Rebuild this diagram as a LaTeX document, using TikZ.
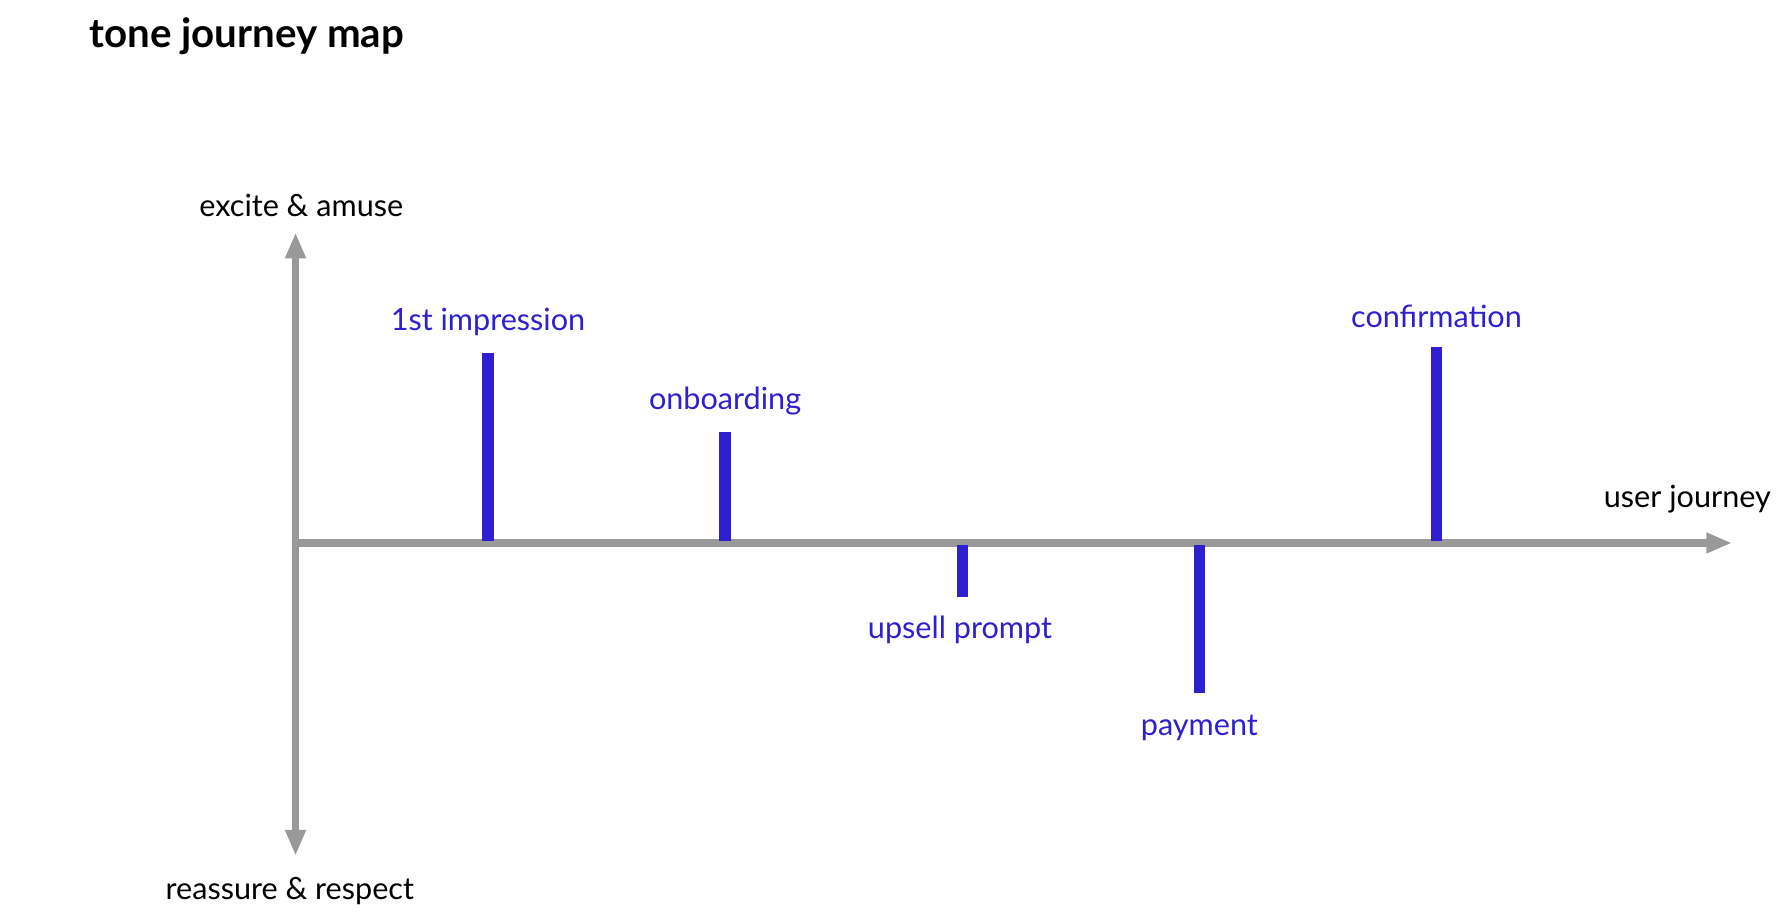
\documentclass[tikz,border=0pt]{standalone}
\usepackage{fontspec}
\setmainfont{Lato}
\usetikzlibrary{positioning, arrows.meta}
\definecolor{axisgray}{HTML}{999999}
\definecolor{toneblue}{HTML}{2E1FD1}
\tikzset{
  axis/.style={draw=axisgray, line width=4.5pt, -{Triangle[length=16pt,width=12pt]}},
  bar/.style={draw=toneblue, line width=7pt},
  tone/.style={text=toneblue, font=\fontsize{19}{22}\selectfont},
  axlabel/.style={font=\fontsize{19}{22}\selectfont}
}
\begin{document}
\begin{tikzpicture}[x=0.025cm, y=-0.025cm]
\useasboundingbox (0,0) rectangle (1560,799);
\node (title) [anchor=west, font=\bfseries\fontsize{25}{30}\selectfont] at (73,32) {tone journey map};
% axes
\coordinate (o) at (258,474);
\coordinate (top) at (258,203);
\coordinate (bot) at (258,747);
\coordinate (right) at (1512,474);
\draw [axis] (o) -- (top);
\draw [axis] (o) -- (bot);
\draw [axis] (o) -- (right);
\node (up) [axlabel] at (263,179) {excite \& amuse};
\node (down) [axlabel] at (253,778) {reassure \& respect};
\node (journey) [axlabel] at (1473,436) {user journey};
% touchpoints
\coordinate (a0) at (426,472); \coordinate (a1) at (426,308);
\coordinate (b0) at (633,472); \coordinate (b1) at (633,377);
\coordinate (c0) at (840,476); \coordinate (c1) at (840,521);
\coordinate (d0) at (1047,476); \coordinate (d1) at (1047,605);
\coordinate (e0) at (1254,472); \coordinate (e1) at (1254,303);
\draw [bar] (a0) -- (a1);
\draw [bar] (b0) -- (b1);
\draw [bar] (c0) -- (c1);
\draw [bar] (d0) -- (d1);
\draw [bar] (e0) -- (e1);
\node (first) [tone] at (426,281) {1st impression};
\node (onboard) [tone] at (633,350) {onboarding};
\node (upsell) [tone] at (838,550) {upsell prompt};
\node (pay) [tone] at (1047,635) {payment};
\node (confirm) [tone] at (1254,276) {confirmation};
\end{tikzpicture}
\end{document}
